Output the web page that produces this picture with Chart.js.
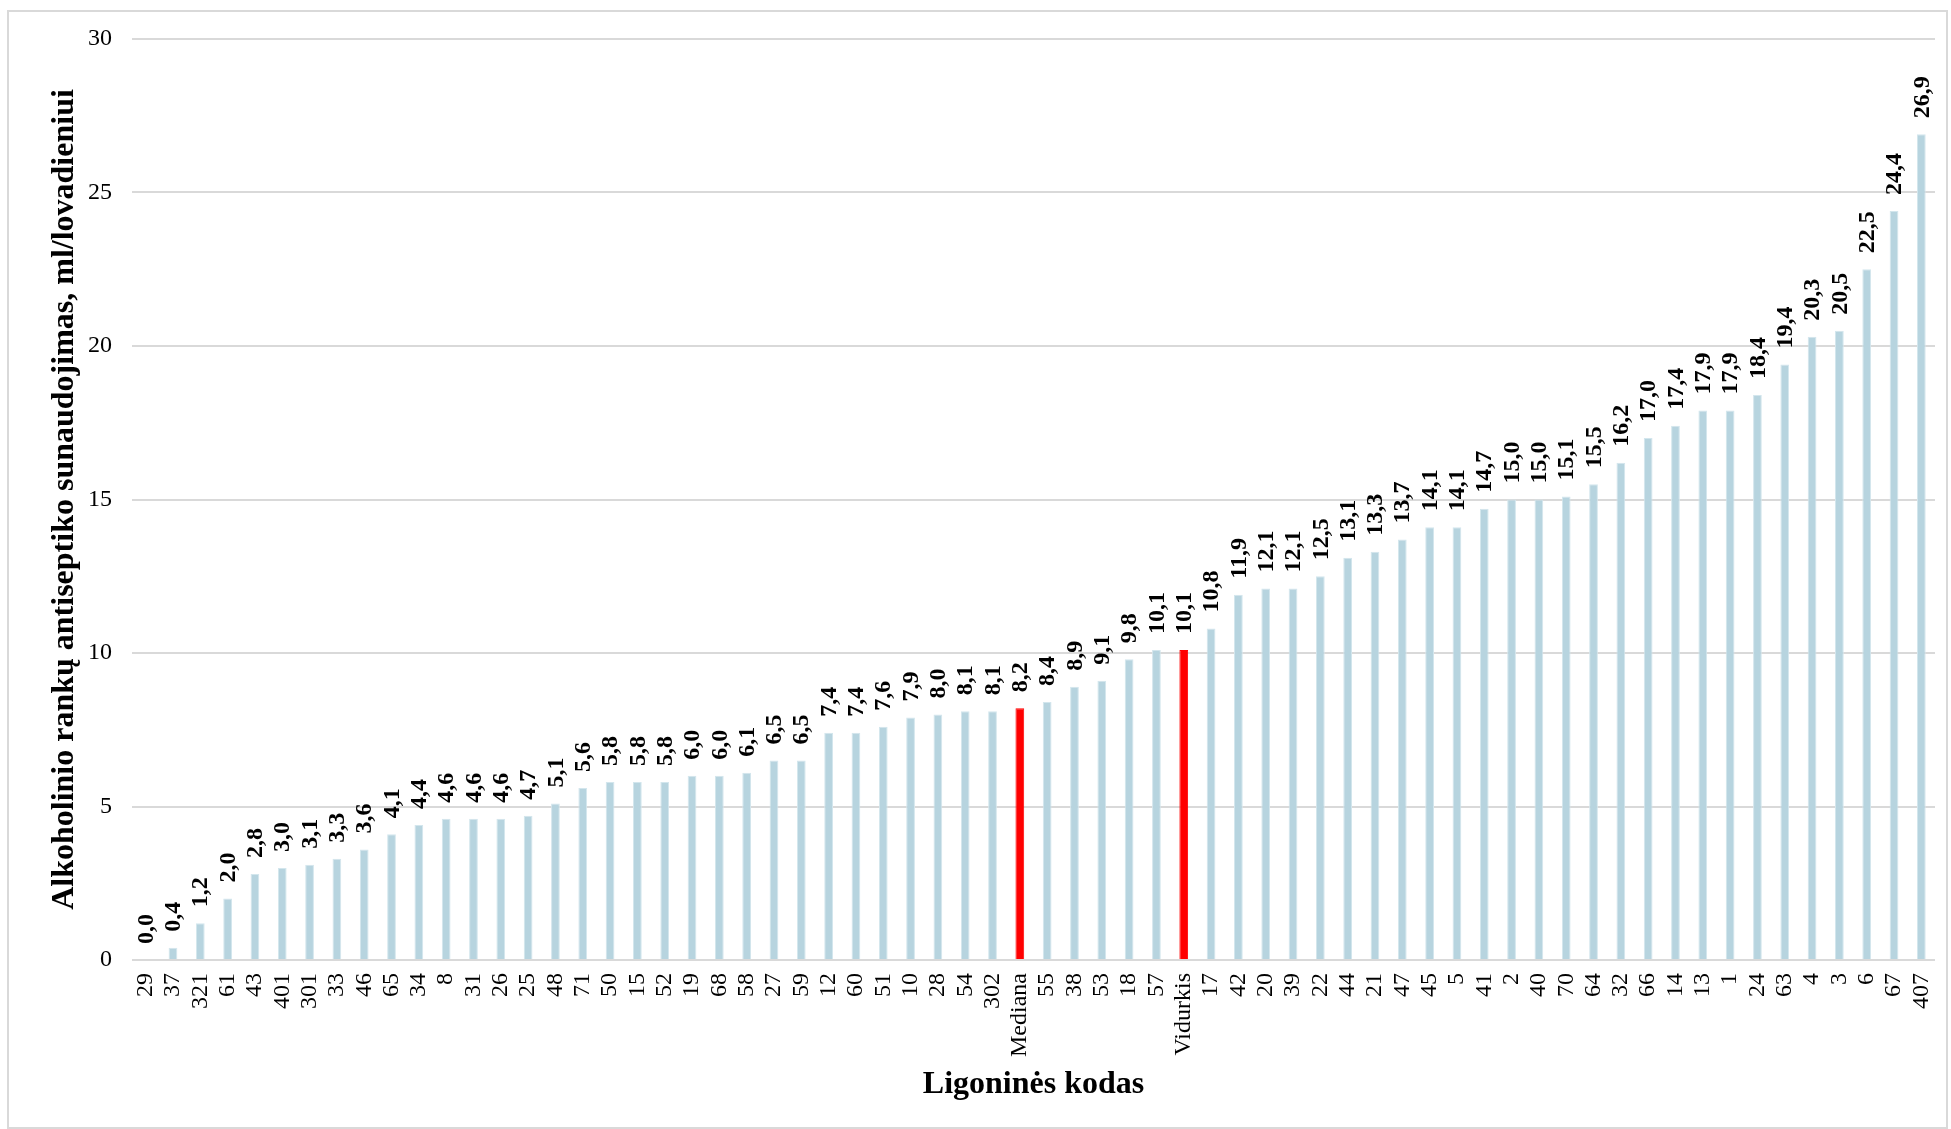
<!DOCTYPE html>
<html>
<head>
<meta charset="utf-8">
<script src="https://cdn.jsdelivr.net/npm/chart.js@4/dist/chart.umd.min.js"></script>
<style>
    body { margin: 0; background: #fff; }
    #wrap { position: relative; width: 1951px; height: 1129px; }
    #frame {
        position: absolute; left: 7px; top: 10px; width: 1937px; height: 1115px;
        border: 2px solid #d9d9d9; pointer-events: none;
    }
    canvas { position: absolute; left: 0; top: 0; }
</style>
</head>
<body>
<div id="wrap">
    <canvas id="hospitalChart" width="1951" height="1129"></canvas>
    <div id="frame"></div>
</div>
<script>
// hospital codes, sorted by consumption
const hospitalCodes = ['29', '37', '321', '61', '43', '401', '301', '33', '46', '65',
    '34', '8', '31', '26', '25', '48', '71', '50', '15', '52',
    '19', '68', '58', '27', '59', '12', '60', '51', '10', '28',
    '54', '302', 'Mediana', '55', '38', '53', '18', '57', 'Vidurkis', '17',
    '42', '20', '39', '22', '44', '21', '47', '45', '5', '41',
    '2', '40', '70', '64', '32', '66', '14', '13', '1', '24',
    '63', '4', '3', '6', '67', '407'];

// ml per bed-day
const consumption = [0.0, 0.4, 1.2, 2.0, 2.8, 3.0, 3.1, 3.3, 3.6, 4.1,
    4.4, 4.6, 4.6, 4.6, 4.7, 5.1, 5.6, 5.8, 5.8, 5.8,
    6.0, 6.0, 6.1, 6.5, 6.5, 7.4, 7.4, 7.6, 7.9, 8.0,
    8.1, 8.1, 8.2, 8.4, 8.9, 9.1, 9.8, 10.1, 10.1, 10.8,
    11.9, 12.1, 12.1, 12.5, 13.1, 13.3, 13.7, 14.1, 14.1, 14.7,
    15.0, 15.0, 15.1, 15.5, 16.2, 17.0, 17.4, 17.9, 17.9, 18.4,
    19.4, 20.3, 20.5, 22.5, 24.4, 26.9];

const highlighted = ['Mediana', 'Vidurkis'];
const yTicks = [0, 5, 10, 15, 20, 25, 30];

const SERIF = "'Liberation Serif', 'Times New Roman', serif";

// value labels above bars, rotated like in the original
const barValueLabels = {
    id: 'barValueLabels',
    afterDatasetsDraw(chart) {
        const ctx = chart.ctx;
        const meta = chart.getDatasetMeta(0);
        ctx.save();
        ctx.font = 'bold 24px ' + SERIF;
        ctx.fillStyle = '#000';
        ctx.textAlign = 'left';
        ctx.textBaseline = 'middle';
        meta.data.forEach((bar, i) => {
            const text = consumption[i].toFixed(1).replace('.', ',');
            ctx.save();
            ctx.translate(bar.x + 1, bar.y - 16);
            ctx.rotate(-Math.PI / 2);
            ctx.fillText(text, 0, 0);
            ctx.restore();
        });
        ctx.restore();
    }
};

const ctxHospital = document.getElementById('hospitalChart').getContext('2d');
new Chart(ctxHospital, {
    type: 'bar',
    data: {
        labels: hospitalCodes,
        datasets: [{
            data: consumption,
            backgroundColor: hospitalCodes.map(c => highlighted.includes(c) ? '#ff0000' : '#b7d4df'),
            borderColor: hospitalCodes.map(c => highlighted.includes(c) ? '#ff0000' : '#d3e6ed'),
            borderWidth: 1,
            categoryPercentage: 1,
            barPercentage: 0.32
        }]
    },
    options: {
        responsive: false,
        animation: false,
        layout: {
            autoPadding: false,
            padding: { left: 46, right: 16, top: 39, bottom: 25 }
        },
        plugins: {
            legend: { display: false },
            tooltip: { enabled: false }
        },
        scales: {
            x: {
                afterFit: scale => {
                    scale.height = 144;
                    scale.paddingLeft = 0;
                    scale.paddingRight = 0;
                },
                grid: { display: false, drawTicks: false },
                border: { display: false },
                ticks: {
                    autoSkip: false,
                    minRotation: 90,
                    maxRotation: 90,
                    padding: 13,
                    color: '#000',
                    font: { family: SERIF, size: 24 }
                },
                title: {
                    display: true,
                    text: 'Ligoninės kodas',
                    color: '#000',
                    padding: { top: 4, bottom: 0 },
                    font: { family: SERIF, size: 32, weight: 'bold' }
                }
            },
            y: {
                min: 0,
                max: 30,
                afterFit: scale => { scale.width = 86; },
                afterBuildTicks: axis => { axis.ticks = yTicks.map(v => ({ value: v })); },
                grid: { color: '#d9d9d9', lineWidth: 2, drawTicks: false },
                border: { display: false },
                ticks: {
                    padding: 20,
                    color: '#000',
                    font: { family: SERIF, size: 24 }
                },
                title: {
                    display: true,
                    text: 'Alkoholinio rankų antiseptiko sunaudojimas, ml/lovadieniui',
                    color: '#000',
                    padding: { top: 0, bottom: 4 },
                    font: { family: SERIF, size: 32, weight: 'bold' }
                }
            }
        }
    },
    plugins: [barValueLabels]
});
</script>
</body>
</html>
